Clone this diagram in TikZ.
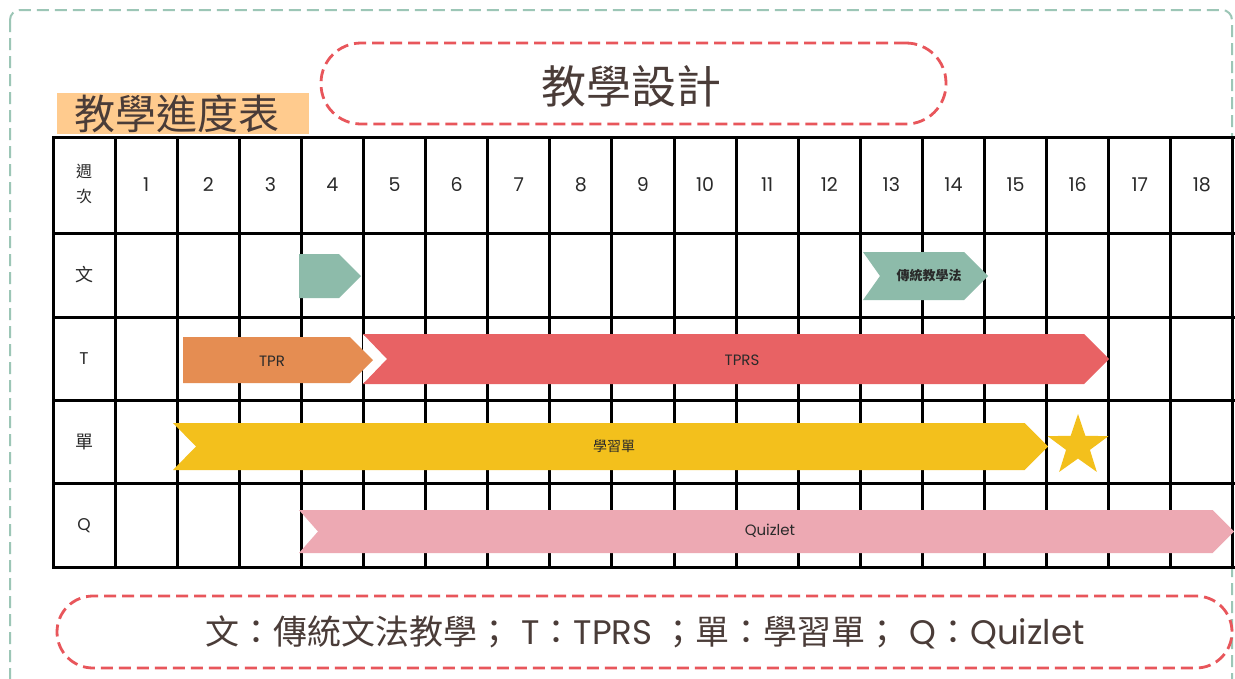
\documentclass[tikz,border=0pt]{standalone}
\usepackage{fontspec}
\setmainfont{Noto Sans CJK TC}
\newfontfamily\lat{Poppins}
\usetikzlibrary{shapes.geometric}
\definecolor{borderGreen}{HTML}{9CC6B6}
\definecolor{dashRed}{HTML}{E8565B}
\definecolor{titleBrown}{HTML}{4A3C38}
\definecolor{labelOrange}{HTML}{FFCB8E}
\definecolor{barGreen}{HTML}{8DBBAA}
\definecolor{barOrange}{HTML}{E58D52}
\definecolor{barRed}{HTML}{E86264}
\definecolor{barYellow}{HTML}{F3C01C}
\definecolor{barPink}{HTML}{EDA9B3}
\definecolor{cellText}{HTML}{2A2A2A}
\newcommand\chevbar[6]{%
  \fill[#6] (#1,#3-#4) -- (#2-#4,#3-#4) -- (#2,#3) -- (#2-#4,#3+#4) -- (#1,#3+#4) -- (#1+#5,#3) -- cycle;}
\tikzset{
  redbox/.style={draw=dashRed, line width=2.8pt, dash pattern=on 12pt off 6pt, text=titleBrown, inner sep=0pt},
  gridline/.style={line width=3pt, black, line cap=rect},
  hdr/.style={text=cellText, font=\lat\fontsize{19}{19}\selectfont},
  rowlbl/.style={text=cellText, font=\fontsize{18}{18}\selectfont},
  barlbl/.style={text=cellText, font=\lat\fontsize{15}{15}\selectfont},
  barcjk/.style={text=cellText, font=\bfseries\fontsize{13}{13}\selectfont}
}
\begin{document}
\begin{tikzpicture}[x=1pt,y=-1pt]
\useasboundingbox (0,0) rectangle (1235,678);
\clip (0,0) rectangle (1235,678);
\fill[white] (0,0) rectangle (1235,678);
% outer green dashed frame
\draw[borderGreen, line width=2pt, dash pattern=on 12pt off 6pt, rounded corners=10pt] (10,10) rectangle (1232,700);
% title
\node[redbox, minimum width=625pt, minimum height=81pt, rounded corners=40pt] (title) at (633.5,83.5) {};
\node[text=titleBrown, font=\fontsize{45}{45}\selectfont] (titletxt) at (631,86) {教學設計};
% label
\node[fill=labelOrange, minimum width=252pt, minimum height=41pt, inner sep=0pt] (lblbox) at (183,113.5) {};
\node[text=titleBrown, font=\fontsize{41}{41}\selectfont] (lbltxt) at (177,114) {教學進度表};
% grid
\foreach \i in {0,...,19} \draw[gridline] ({53+62.1*\i},137) -- ({53+62.1*\i},567);
\foreach \yy in {137,233,317,400.5,483.5,567} \draw[gridline] (53,\yy) -- (1233,\yy);
% header
\node[text=cellText, font=\fontsize{16}{25}\selectfont, align=center] (wk) at (84,184) {週\\次};
\foreach \c in {1,...,18} \node[hdr] (h\c) at ({53+62.1*(\c+0.5)},185) {\c};
% row labels
\node[rowlbl] (rwen) at (84,275) {文};
\node[rowlbl, font=\lat\fontsize{17}{17}\selectfont] (rT) at (84,359) {T};
\node[rowlbl] (rdan) at (84,442) {單};
\node[rowlbl, font=\lat\fontsize{17}{17}\selectfont] (rQ) at (84,526) {Q};
% bars
\chevbar{299}{361}{276}{22}{0}{barGreen}
\chevbar{863}{988}{276}{24}{17}{barGreen}
\node[barcjk] (bwen) at (929,276) {傳統教學法};
\fill[white] (363,334) -- (387,359) -- (363,384) -- cycle;
\chevbar{363}{1109}{359}{25}{24}{barRed}
\chevbar{183}{373}{360}{23}{0}{barOrange}
\node[barlbl] (btpr) at (272,361) {TPR};
\node[barlbl] (btprs) at (742,360) {TPRS};
\chevbar{173}{1048}{446.5}{23.5}{23}{barYellow}
\node[barcjk, font=\fontsize{14}{14}\selectfont] (bdan) at (614,446) {學習單};
\node[star, star points=5, star point ratio=2.55, fill=barYellow, minimum size=64pt, inner sep=0pt] (bstar) at (1078,446) {};
\chevbar{299}{1234}{531.5}{21.5}{19}{barPink}
\node[barlbl] (bquiz) at (770,531) {Quizlet};
% legend
\node[redbox, minimum width=1175pt, minimum height=72pt, rounded corners=36pt] (legend) at (644.5,632) {};
\node[text=titleBrown, font=\fontsize{34}{34}\selectfont] (legendtxt) at (645,632)
  {文：傳統文法教學；\hspace{10pt}{\lat T}：{\lat TPRS\ }；單：學習單；\hspace{10pt}{\lat Q}：{\lat Quizlet}};
\end{tikzpicture}
\end{document}
